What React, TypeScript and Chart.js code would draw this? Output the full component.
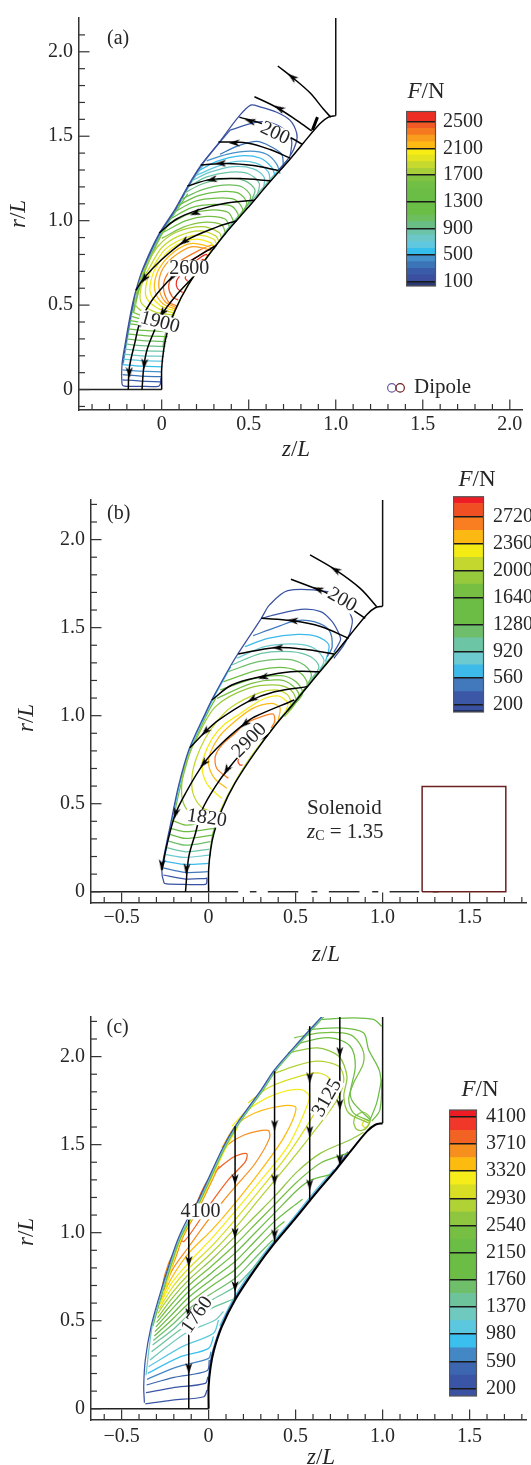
import React, { useEffect, useRef } from "react";
import { Chart, registerables } from "chart.js";
Chart.register(...registerables);

type Pt = [number, number];
type Contour = [number, Pt[]];

// ---------- shared nozzle wall (z/L, r/L) ----------
const wallCurve: Pt[] = [[0,0],[0,.125],[.012,.24],[.03,.33],[.076,.466],[.152,.618],[.265,.789],[.379,.94],[.492,1.073],[.622,1.23],[.737,1.364],[.814,1.46],[.91,1.575],[.958,1.613],[1.0,1.622]];
const wallStraight: Pt[] = [[1.0,1.622],[1.0,2.3]];

// ---------- panel (a) ----------
const xTicksA = [-.4,-.3,-.2,-.1,0,.1,.2,.3,.4,.5,.6,.7,.8,.9,1,1.1,1.2,1.3,1.4,1.5,1.6,1.7,1.8,1.9,2];
const rTicksA = [-.1,0,.1,.2,.3,.4,.5,.6,.7,.8,.9,1,1.1,1.2,1.3,1.4,1.5,1.6,1.7,1.8,1.9,2,2.1];
const edgesA = [33,100,200,300,400,500,600,700,800,900,1000,1100,1200,1300,1400,1500,1600,1700,1800,1900,2000,2100,2200,2300,2400,2500,2654];
const colorsA = ["#2b3a73","#3a4f9f","#3a5ba8","#3b75b8","#4390cb","#35bdec","#5fc8e0","#6cc8c8","#6cc4a8","#69be85","#6cbe5f","#6abd45","#6abd45","#6abd45","#6cbd45","#71bf44","#82c341","#a8cf38","#c5d92f","#e3e31f","#f7ec13","#fdba12","#f99d1c","#f5791f","#f15a25","#ee2e24"];
const barTicksA = [100,500,900,1300,1700,2100,2500];
const contoursA: Contour[] = [
 [100,[[-.004,.07],[-.008,.033],[-.019,.019],[-.125,.019],[-.216,.021],[-.228,.033],[-.228,.148],[-.211,.263],[-.178,.454],[-.148,.588],[-.106,.722],[-.02,.914],[.076,1.067],[.153,1.21],[.23,1.335],[.335,1.47],[.44,1.613],[.511,1.684],[.565,1.674],[.661,1.642],[.738,1.594],[.776,1.517],[.772,1.46],[.738,1.383],[.67,1.297]]],
 [200,[[-.225,.058],[-.12,.05],[-.008,.046]]],[300,[[-.225,.088],[-.12,.08],[-.004,.076]]],[400,[[-.225,.117],[-.12,.109],[0,.105]]],
 [500,[[-.224,.148],[-.12,.139],[.005,.135]]],[600,[[-.222,.18],[-.12,.172],[.012,.168]]],[700,[[-.218,.21],[-.12,.2],[.014,.197]]],
 [800,[[-.215,.24],[-.11,.23],[.018,.226]]],[900,[[-.21,.27],[-.11,.26],[.022,.255]]],[1000,[[-.205,.30],[-.11,.29],[.028,.284]]],
 [1100,[[-.2,.33],[-.1,.32],[.035,.313]]],[1200,[[-.195,.36],[-.1,.35],[.042,.342]]],[1300,[[-.19,.39],[-.09,.378],[.052,.37]]],
 [1400,[[-.185,.41],[-.085,.392],[.056,.385]]],[1500,[[-.18,.435],[-.08,.41],[.062,.40]]],[1600,[[-.17,.46],[-.09,.43],[.066,.415]]],
 [200,[[.393,1.536],[.546,1.584],[.642,1.575],[.718,1.527],[.747,1.469],[.738,1.383]]],
 [300,[[.335,1.393],[.431,1.44],[.546,1.469],[.623,1.441],[.69,1.393],[.699,1.316]]],
 [400,[[.259,1.354],[.374,1.393],[.508,1.412],[.603,1.393],[.661,1.335],[.68,1.278]]],
 [500,[[.216,1.297],[.316,1.351],[.45,1.384],[.565,1.371],[.632,1.316],[.651,1.268]]],
 [600,[[.197,1.268],[.316,1.32],[.431,1.351],[.546,1.339],[.613,1.287],[.623,1.23]]],
 [700,[[.172,1.236],[.278,1.287],[.412,1.32],[.527,1.307],[.588,1.259],[.584,1.182]]],
 [800,[[.153,1.201],[.259,1.259],[.393,1.287],[.498,1.278],[.561,1.22],[.546,1.144]]],
 [900,[[.128,1.163],[.239,1.22],[.374,1.249],[.479,1.236],[.536,1.182],[.508,1.105]]],
 [1000,[[.109,1.125],[.23,1.182],[.354,1.211],[.46,1.201],[.511,1.144],[.479,1.067]]],
 [1100,[[.086,1.086],[.211,1.148],[.335,1.172],[.441,1.163],[.489,1.105],[.45,1.029]]],
 [1200,[[.067,1.048],[.192,1.115],[.316,1.134],[.421,1.125],[.466,1.067],[.45,1.03]]],
 [1300,[[.048,1.01],[.172,1.077],[.297,1.096],[.402,1.086],[.441,1.029],[.42,.99]]],
 [1400,[[.029,.971],[.153,1.038],[.278,1.063],[.383,1.048],[.416,.99]]],
 [1500,[[.013,.933],[.14,1.0],[.259,1.025],[.364,1.01],[.393,.956]]],
 [1600,[[0,.895],[.125,.962],[.239,.99],[.345,.975],[.368,.918]]],
 [1700,[[.072,.425],[-.06,.44],[-.15,.5],[-.135,.62],[-.09,.73],[-.02,.85],[.08,.93],[.23,.965],[.33,.93],[.345,.895]]],
 [1800,[[.075,.44],[-.04,.46],[-.12,.52],[-.11,.64],[-.06,.74],[0,.84],[.1,.91],[.22,.94],[.31,.91],[.33,.875]]],
 [1900,[[.078,.452],[-.02,.48],[-.09,.55],[-.08,.66],[-.035,.75],[.02,.83],[.115,.89],[.21,.915],[.3,.89],[.315,.86]]],
 [2000,[[.08,.465],[-.005,.495],[-.065,.57],[-.055,.67],[-.01,.76],[.05,.83],[.125,.875],[.2,.89],[.28,.87],[.3,.845]]],
 [2100,[[.083,.475],[.005,.51],[-.04,.59],[-.03,.68],[.015,.76],[.07,.815],[.135,.855],[.18,.865],[.26,.85],[.29,.835]]],
 [2200,[[.085,.485],[.02,.52],[-.015,.6],[-.005,.69],[.04,.76],[.1,.81],[.17,.845],[.25,.835],[.28,.825]]],
 [2300,[[.088,.495],[.038,.521],[.01,.607],[.033,.683],[.105,.76],[.22,.827],[.287,.856],[.30,.85]]],
 [2400,[[.095,.53],[.06,.55],[.04,.61],[.06,.67],[.12,.735],[.21,.79],[.27,.83],[.285,.825]]],
 [2500,[[.12,.575],[.09,.6],[.085,.64],[.11,.68],[.16,.73],[.22,.78],[.255,.80],[.265,.79]]],
 [2600,[[.15,.64],[.135,.66],[.15,.69],[.2,.74],[.235,.77],[.245,.765]]],
 [200,[[-.224,.15],[-.207,.263],[-.174,.454],[-.144,.588],[-.102,.722],[-.016,.914],[.08,1.067],[.157,1.21],[.234,1.335],[.339,1.47],[.393,1.536]]],
 [700,[[-.219,.16],[-.203,.263],[-.17,.454],[-.14,.588],[-.098,.722],[-.012,.914],[.084,1.067],[.161,1.21],[.24,1.33]]],
 [1300,[[-.165,.454],[-.135,.588],[-.093,.722],[-.007,.914],[.09,1.067],[.15,1.16]]],
 [1600,[[-.16,.46],[-.13,.588],[-.088,.722],[-.002,.914],[.05,.99]]],
 [1200,[[.006,.25],[.024,.34],[.064,.45]]],
 [2000,[[.064,.45],[.094,.51],[.14,.6],[.2,.7],[.29,.83]]],
 [800,[[.3,.83],[.37,.94],[.48,1.073],[.61,1.23],[.725,1.36]]],
];
const streamsA: Pt[][] = [
 [[.667,1.916],[.757,1.843],[.852,1.757],[.929,1.661],[.971,1.613]],
 [[.533,1.734],[.661,1.67],[.776,1.594],[.862,1.531]],
 [[.446,1.613],[.575,1.575],[.747,1.488],[.805,1.454]],
 [[.326,1.466],[.489,1.46],[.623,1.421],[.738,1.37]],
 [[.224,1.33],[.374,1.339],[.527,1.326],[.67,1.297]],
 [[.148,1.205],[.278,1.243],[.45,1.249],[.626,1.236]],
 [[-.015,.927],[.086,1.01],[.22,1.067],[.374,1.105],[.536,1.121]],
 [[-.148,.588],[-.105,.655],[-.01,.76],[.134,.879],[.316,.962],[.431,1.0]],
 [[-.192,0],[-.186,.128],[-.153,.282],[-.125,.397],[-.067,.511],[-.01,.588],[.067,.674],[.153,.751],[.316,.856]],
 [[-.113,0],[-.102,.14],[-.082,.243],[-.038,.358],[0,.444],[.077,.55],[.18,.665]],
];
const thickStubA: Pt[] = [[.866,1.536],[.895,1.613]];
const arrowsA: [number,number,number][] = [[.75,1.85,218],[.676,1.665,209],[.508,1.59,195],[.416,1.46,180],[.339,1.339,180],[.287,1.243,170],[.192,1.044,160],[.128,.875,145],[-.1,.655,125],[.063,.669,125],[-.115,.397,110],[-.186,.1,90],[.004,.454,125],[-.1,.151,95]];
const labelsA: [string,number,number,number][] = [["200",.651,1.517,25],["2600",.159,.718,0],["1900",-.01,.397,15]];
const dipolePositions: Pt[] = [[1.322,.01],[1.37,.01]];

// ---------- panel (b) ----------
const xTicksB = [-.6,-.5,-.4,-.3,-.2,-.1,0,.1,.2,.3,.4,.5,.6,.7,.8,.9,1,1.1,1.2,1.3,1.4,1.5,1.6,1.7,1.8];
const rTicksB = [0,.1,.2,.3,.4,.5,.6,.7,.8,.9,1,1.1,1.2,1.3,1.4,1.5,1.6,1.7,1.8,1.9,2,2.1,2.2];
const edgesB = [107,128,200,380,560,740,920,1100,1280,1640,1820,2000,2180,2360,2540,2720,2900,2991];
const colorsB = ["#1e2d60","#3a50a0","#3b57a6","#4278bc","#3db9ea","#6dcbd0","#6cc5a5","#6ebe6c","#6cbd45","#76bf43","#97c93c","#c3d72e","#f5eb14","#fdb913","#f97e21","#f04e23","#ee1c25"];
const barTicksB = [200,560,920,1280,1640,2000,2360,2720];
const contoursB: Contour[] = [
 [150,[[-.01,.08],[-.012,.047],[-.03,.04],[-.14,.042],[-.24,.045],[-.256,.05],[-.269,.123],[-.242,.275],[-.218,.388],[-.174,.597],[-.114,.805],[-.019,1.013],[.028,1.108],[.123,1.278],[.17,1.354],[.303,1.553],[.35,1.629],[.455,1.71],[.682,1.705],[.75,1.67],[.824,1.553],[.814,1.477],[.777,1.402],[.72,1.326]]],
 [200,[[-.261,.095],[-.133,.072],[-.01,.076]]],[380,[[-.265,.136],[-.133,.11],[-.005,.114]]],[560,[[-.256,.174],[-.133,.155],[0,.161]]],
 [740,[[-.25,.212],[-.133,.195],[.003,.208]]],[920,[[-.242,.25],[-.133,.227],[.006,.242]]],[1100,[[-.232,.288],[-.133,.265],[.011,.284]]],
 [1280,[[-.224,.326],[-.133,.303],[.023,.322]]],[1460,[[-.218,.36],[-.133,.341],[.034,.36]]],[1640,[[-.212,.407],[-.133,.379],[.038,.398]]],
 [200,[[.303,1.553],[.379,1.572],[.53,1.604],[.644,1.591],[.71,1.534],[.748,1.468],[.758,1.43],[.72,1.36]]],
 [380,[[.256,1.455],[.398,1.506],[.502,1.54],[.606,1.534],[.691,1.487],[.71,1.392],[.682,1.335]]],
 [560,[[.208,1.392],[.341,1.439],[.511,1.462],[.625,1.449],[.691,1.402],[.672,1.307]]],
 [740,[[.161,1.326],[.322,1.392],[.511,1.407],[.606,1.383],[.663,1.316],[.634,1.25]]],
 [920,[[.133,1.288],[.303,1.354],[.473,1.364],[.587,1.335],[.634,1.278],[.587,1.203]]],
 [1100,[[.114,1.25],[.284,1.307],[.455,1.32],[.549,1.288],[.591,1.231],[.549,1.146]]],
 [1280,[[.085,1.193],[.284,1.259],[.436,1.273],[.53,1.241],[.568,1.174],[.511,1.098]]],
 [1460,[[.066,1.146],[.265,1.212],[.417,1.227],[.502,1.193],[.54,1.127],[.473,1.042]]],
 [1640,[[.047,1.098],[.246,1.184],[.407,1.203],[.483,1.17],[.521,1.108],[.455,1.023]]],
 [1820,[[.05,.41],[-.04,.425],[-.114,.455],[-.152,.53],[-.15,.65],[-.12,.76],[-.07,.87],[.038,1.05],[.227,1.155],[.398,1.174],[.473,1.146],[.502,1.08],[.436,.994]]],
 [2000,[[.06,.44],[-.04,.48],[-.09,.56],[-.095,.66],[-.07,.76],[-.02,.87],[.05,.97],[.133,1.051],[.284,1.127],[.388,1.146],[.455,1.117],[.473,1.06],[.455,1.02]]],
 [2180,[[.076,.53],[0,.6],[-.035,.68],[-.03,.76],[.02,.87],[.09,.95],[.17,1.004],[.303,1.089],[.398,1.112],[.455,1.07],[.43,1.0]]],
 [2360,[[.104,.587],[.034,.644],[0,.72],[.01,.79],[.06,.88],[.13,.95],[.25,1.04],[.36,1.07],[.41,1.045],[.40,.975]]],
 [2540,[[.114,.644],[.047,.70],[.038,.767],[.076,.833],[.152,.9],[.208,.953],[.265,.98],[.369,1.01],[.38,.97],[.36,.93]]],
 [2720,[[.195,.72],[.18,.72],[.17,.748],[.227,.805],[.265,.852],[.322,.9],[.335,.88]]],
 [560,[[-.265,.123],[-.238,.275],[-.214,.388],[-.17,.597],[-.11,.805],[-.015,1.013],[.032,1.108],[.127,1.278]]],
 [1640,[[-.206,.40],[-.162,.597],[-.102,.805],[-.007,1.013],[.04,1.098]]],
 [1460,[[.006,.2],[.024,.33],[.068,.46]]],
 [2000,[[.068,.46],[.1,.53],[.15,.62],[.21,.72],[.29,.83],[.4,.97]]],
 [1100,[[.4,.97],[.485,1.073],[.615,1.23],[.73,1.364]]],
];
const streamsB: Pt[][] = [
 [[.583,1.913],[.729,1.828],[.871,1.723],[.966,1.619]],
 [[.473,1.775],[.625,1.718],[.682,1.695],[.9,1.553]],
 [[.303,1.553],[.473,1.54],[.644,1.506],[.805,1.439]],
 [[.17,1.35],[.379,1.386],[.549,1.377],[.72,1.35]],
 [[.019,1.089],[.133,1.174],[.303,1.222],[.473,1.25],[.638,1.25]],
 [[-.108,.818],[-.019,.909],[.057,.975],[.227,1.08],[.379,1.136],[.568,1.165]],
 [[.492,1.089],[.265,.994],[.208,.956],[.076,.843],[-.028,.729],[-.133,.559],[-.193,.436],[-.242,.256],[-.269,.123]],
 [[.341,.89],[.21,.805],[.114,.70],[.038,.597],[-.038,.464],[-.076,.331],[-.114,.199],[-.133,0]],
];
const arrowsB: [number,number,number][] = [[.729,1.828,210],[.629,1.718,200],[.483,1.54,185],[.398,1.386,180],[.313,1.218,165],[.25,1.093,150],[-.019,.909,135],[.208,.953,140],[-.028,.729,130],[-.189,.445,105],[-.269,.152,95],[.104,.691,120],[-.127,.129,95]];
const labelsB: [string,number,number,number][] = [["200",.767,1.657,30],["2900",.235,.86,-45],["1820",-.01,.417,8]];
const solenoidBox: Pt[] = [[1.227,0],[1.227,.597],[1.708,.597],[1.708,0],[1.227,0]];
const axisDashes: Pt[][] = [[[0,0],[.17,0]],[[.237,0],[.275,0]],[[.34,0],[.515,0]],[[.591,0],[.625,0]],[[.691,0],[.867,0]],[[.94,0],[.975,0]],[[1.04,0],[1.21,0]],[[1.288,0],[1.32,0]]];

// ---------- panel (c) ----------
const xTicksC = xTicksB;
const rTicksC = rTicksB;
const edgesC = [94,200,395,590,785,980,1175,1370,1565,1760,1955,2150,2345,2540,2735,2930,3125,3320,3515,3710,3905,4100,4197];
const colorsC = ["#3b52a3","#3a55a5","#3c66b0","#4387c4","#3abfee","#5bc8e0","#6fc9bf","#6cc39c","#6fbf6a","#6bbd45","#6bbd45","#6cbd45","#76bf43","#8fc63f","#b0d235","#d8de23","#f6ec1a","#fdbb10","#f78f1e","#f26223","#f1372a","#ed1c24"];
const barTicksC = [200,590,980,1370,1760,2150,2540,2930,3320,3710,4100];
const contoursC: Contour[] = [
 [200,[[-.369,.034],[-.373,.125],[-.364,.277],[-.331,.466],[-.284,.637],[-.218,.846],[-.17,.978],[-.114,1.092],[-.076,1.149],[.076,1.471],[.152,1.604],[.303,1.813],[.379,1.926],[.53,2.097],[.653,2.23]]],
 [1300,[[-.36,.19],[-.325,.466],[-.278,.637],[-.212,.846],[-.164,.978],[-.07,1.149],[.082,1.471],[.158,1.604],[.309,1.813],[.385,1.926],[.536,2.097],[.659,2.23]]],
 [2100,[[-.32,.47],[-.272,.637],[-.206,.846],[-.158,.978],[-.064,1.149],[.088,1.471],[.164,1.604],[.315,1.813],[.391,1.926],[.542,2.097],[.665,2.23]]],
 [3200,[[-.27,.6],[-.2,.846],[-.152,.978],[-.058,1.149],[.094,1.471],[.17,1.604]]],
 [3600,[[-.24,.74],[-.194,.846],[-.146,.978],[-.052,1.149],[.06,1.38]]],
 [200,[[-.364,.027],[-.208,.049],[-.028,.068],[-.009,.106]]],
 [300,[[-.36,.091],[-.208,.119],[-.019,.144],[-.004,.182]]],
 [450,[[-.356,.135],[-.199,.178],[-.009,.216],[.004,.277]]],
 [650,[[-.354,.167],[-.189,.235],[0,.286],[.014,.324]]],
 [850,[[-.35,.201],[-.17,.292],[0,.343],[.028,.41]]],
 [1100,[[-.345,.239],[-.152,.353],[.028,.429],[.057,.504]]],
 [1250,[[-.337,.277],[-.133,.429],[.038,.504],[.085,.552]]],
 [1400,[[-.328,.324],[-.114,.485],[.019,.571],[.142,.622]]],
 [1450,[[-.322,.362],[-.208,.447],[-.114,.533],[.019,.618],[.152,.694],[.246,.789],[.322,.874]]],
 [1650,[[-.318,.387],[-.208,.478],[-.114,.567],[.019,.656],[.152,.741],[.265,.855],[.369,.959]]],
 [1850,[[-.312,.413],[-.208,.508],[-.114,.599],[.019,.698],[.152,.789],[.265,.903],[.379,1.016],[.436,1.064]]],
 [2050,[[-.309,.438],[-.208,.538],[-.114,.633],[.019,.736],[.152,.836],[.265,.95],[.379,1.064],[.473,1.14],[.54,1.19]]],
 [2250,[[-.303,.465],[-.208,.569],[-.114,.666],[.019,.774],[.152,.884],[.265,.997],[.379,1.111],[.511,1.244],[.59,1.30],[.70,1.33]]],
 [2450,[[-.299,.491],[-.208,.599],[-.114,.7],[.019,.812],[.152,.931],[.265,1.045],[.379,1.159],[.511,1.291],[.644,1.396],[.795,1.45]]],
 [2640,[[-.294,.516],[-.208,.63],[-.114,.732],[.019,.849],[.152,.978],[.265,1.092],[.379,1.206],[.511,1.348],[.644,1.452],[.814,1.528],[.89,1.57]]],
 [2800,[[-.292,.542],[-.208,.66],[-.114,.764],[.019,.887],[.152,1.026],[.303,1.206],[.455,1.386],[.606,1.575],[.739,1.755],[.777,1.87],[.748,1.945],[.625,1.974],[.492,1.945],[.36,1.898]]],
 [3000,[[-.284,.567],[-.208,.69],[-.114,.798],[.019,.925],[.152,1.073],[.303,1.253],[.455,1.443],[.587,1.642],[.682,1.813],[.691,1.879],[.625,1.907],[.492,1.879],[.341,1.822],[.227,1.737]]],
 [3200,[[-.28,.593],[-.208,.72],[-.114,.83],[.019,.969],[.152,1.121],[.303,1.301],[.455,1.49],[.549,1.68],[.578,1.775],[.53,1.813],[.379,1.784],[.227,1.699],[.133,1.604]]],
 [3420,[[-.275,.618],[-.208,.751],[-.114,.884],[.019,1.016],[.152,1.168],[.303,1.358],[.436,1.547],[.502,1.708],[.436,1.722],[.265,1.68],[.152,1.604],[.076,1.481]]],
 [3600,[[-.256,.675],[-.208,.79],[-.114,.92],[-.019,1.05],[.076,1.17],[.152,1.26],[.265,1.39],[.35,1.537],[.341,1.581],[.208,1.556],[.095,1.481],[-.01,1.25],[-.09,1.09],[-.16,.959],[-.23,.827],[-.269,.684],[-.256,.675]]],
 [3800,[[-.161,.959],[-.114,1.054],[-.009,1.291],[.133,1.424],[.218,1.449],[.212,1.405],[.114,1.301],[0,1.149],[-.076,1.035],[-.142,.95],[-.161,.959]]],
 [2640,[[.455,2.021],[.625,2.05],[.748,2.002],[.795,1.888],[.777,1.775],[.805,1.68],[.92,1.623]]],
 [2250,[[.5,2.05],[.53,2.078],[.702,2.107],[.814,2.059],[.843,1.945],[.814,1.794],[.833,1.737],[.928,1.642]]],
 [2400,[[.492,2.107],[.644,2.135],[.814,2.125],[.881,2.05],[.89,1.964],[.833,1.85],[.805,1.756],[.833,1.679],[.928,1.633]]],
 [2150,[[.568,2.154],[.758,2.163],[.89,2.135],[.919,2.04],[.985,1.907],[.985,1.699],[.938,1.633]]],
 [2000,[[.644,2.211],[.833,2.22],[.947,2.211],[.994,2.173]]],
 [2000,[[.994,1.87],[.966,1.737],[.928,1.642]]],
 [2640,[[.833,1.623],[.843,1.661],[.89,1.684],[.928,1.652],[.915,1.604],[.881,1.581],[.848,1.589],[.833,1.623]]],
 [3000,[[.881,1.614],[.9,1.642],[.924,1.627],[.9,1.595],[.881,1.614]]],
 [400,[[-.004,.1],[.006,.24],[.024,.33],[.07,.466],[.146,.618],[.259,.789],[.373,.94],[.486,1.073],[.616,1.23],[.731,1.364],[.8,1.46]]],
 [1000,[[.064,.47],[.14,.62],[.25,.79],[.365,.94],[.478,1.073],[.606,1.23],[.72,1.36]]],
];
const streamsC: Pt[][] = [
 [[-.114,0],[-.114,1.073]],
 [[.152,.618],[.152,1.604]],
 [[.379,.94],[.379,1.917]],
 [[.581,1.177],[.581,2.173]],
 [[.754,1.396],[.754,2.3]],
];
const arrowsC: [number,number,number][] = [[-.114,.836,90],[-.114,.542,90],[-.114,.229,90],[.152,1.301,90],[.152,.997,90],[.152,.694,90],[.379,1.61,90],[.379,1.301,90],[.379,.988,90],[.581,1.879,90],[.581,1.576,90],[.581,1.272,90],[.754,2.025,90],[.754,1.727,90],[.754,1.414,90]];
const labelsC: [string,number,number,number][] = [["3125",.682,1.765,-60],["1760",-.066,.533,-55],["4100",-.047,1.121,0]];

// ---------- drawing helpers ----------
const SERIF = '"Liberation Serif", serif';
const INK = "#262626";
const FS = 20;
const FS_TITLE = 23;
const FS_NOTE = 21;

function bandColor(level: number, edges: number[], colors: string[]) {
  for (let i = colors.length - 1; i >= 0; i--) if (level >= edges[i]) return colors[i];
  return colors[0];
}
const toXY = (p: Pt[]) => p.map(([x, y]) => ({ x, y }));
const isNear = (a: number, list: number[]) => list.some((v) => Math.abs(v - a) < 1e-6);

function mixedText(ctx: CanvasRenderingContext2D, parts: [string, boolean, number?, number?][], cx: number, cy: number, rot = 0, align: "center" | "left" = "center") {
  ctx.save();
  ctx.translate(cx, cy);
  ctx.rotate(rot);
  ctx.textBaseline = "middle";
  ctx.textAlign = "left";
  ctx.fillStyle = INK;
  let w = 0;
  for (const [t, it, s] of parts) {
    ctx.font = `${it ? "italic " : ""}${s ?? FS}px ${SERIF}`;
    w += ctx.measureText(t).width;
  }
  let x = align === "center" ? -w / 2 : 0;
  for (const [t, it, s, dy] of parts) {
    ctx.font = `${it ? "italic " : ""}${s ?? FS}px ${SERIF}`;
    ctx.fillText(t, x, dy ?? 0);
    x += ctx.measureText(t).width;
  }
  ctx.restore();
}

function makeArrow() {
  const c = document.createElement("canvas");
  c.width = 11;
  c.height = 8;
  const g = c.getContext("2d")!;
  g.fillStyle = "#000";
  g.beginPath();
  g.moveTo(11, 4);
  g.lineTo(0, 0.4);
  g.lineTo(3, 4);
  g.lineTo(0, 7.6);
  g.closePath();
  g.fill();
  return c;
}

interface PanelCfg {
  box: { top: number; height: number; left: number; right: number; axisTop: number; axisBottom: number };
  xRange: Pt; rRange: Pt;
  xTicks: number[]; rTicks: number[]; xMajor: [number, string][]; rMajor: [number, string][];
  contours: Contour[]; edges: number[]; colors: string[];
  streams: Pt[][]; arrows: [number, number, number][]; labels: [string, number, number, number][];
  tag: [string, number, number];
  axisLine: Pt[]; wallWidth: number; xPad: number;
  titleZ: Pt; titleR: Pt;
  extra?: any[];
  texts?: (ctx: CanvasRenderingContext2D, chart: any) => void;
}

function buildPanel(canvas: HTMLCanvasElement, p: PanelCfg) {
  const arrow = makeArrow();
  const line = (data: Pt[], color: string, width: number, tension = 0) => ({
    data: toXY(data), showLine: true, borderColor: color, borderWidth: width, pointRadius: 0, tension, fill: false,
  });
  const datasets: any[] = [
    { data: p.arrows.map(([x, y]) => ({ x, y })), showLine: false, pointStyle: arrow, pointRadius: 4, pointRotation: p.arrows.map((a) => a[2]) },
    ...(p.extra ?? []).map((e: any) => (e.pts ? { ...line(e.pts, e.color, e.width), ...(e.opts ?? {}) } : e)),
    ...p.streams.map((s) => line(s, "#000", 1.5, 0.35)),
    line(wallCurve, "#000", p.wallWidth, 0.3),
    line(wallStraight, "#111", 1.5),
    line(p.axisLine, "#222", 1.4),
    ...p.contours.map(([lv, pts]) => line(pts, bandColor(lv, p.edges, p.colors), 1.25, 0.3)),
  ];
  const bottomSpace = p.box.top + p.box.height - p.box.axisBottom;
  const axis = (ticks: number[], major: [number, string][], range: Pt, vertical: boolean) => ({
    type: "linear" as const,
    min: range[0], max: range[1],
    grid: { display: false, drawTicks: false },
    border: { display: true, color: "#333", width: 1.5 },
    afterFit(s: any) { if (vertical) s.width = p.box.left; else s.height = bottomSpace; },
    afterBuildTicks(s: any) { s.ticks = ticks.map((value) => ({ value })); },
    ticks: {
      autoSkip: false, maxRotation: 0, minRotation: 0, padding: vertical ? 6 : p.xPad,
      color: INK, font: { family: SERIF, size: FS },
      callback: (v: number) => major.find((m) => Math.abs(m[0] - v) < 1e-6)?.[1] ?? "",
    },
  });
  const plugin = {
    id: "panelDecor",
    afterDatasetsDraw(chart: any) {
      const { ctx, scales: { x, y }, chartArea: a } = chart;
      ctx.save();
      ctx.strokeStyle = "#333";
      ctx.lineWidth = 1.2;
      const xm = p.xMajor.map((m) => m[0]);
      const rm = p.rMajor.map((m) => m[0]);
      for (const v of p.xTicks) {
        const px = x.getPixelForValue(v);
        ctx.beginPath(); ctx.moveTo(px, a.bottom); ctx.lineTo(px, a.bottom - (isNear(v, xm) ? 10.5 : 6)); ctx.stroke();
      }
      for (const v of p.rTicks) {
        const py = y.getPixelForValue(v);
        ctx.beginPath(); ctx.moveTo(a.left, py); ctx.lineTo(a.left + (isNear(v, rm) ? 10.5 : 6), py); ctx.stroke();
      }
      ctx.restore();
      ctx.save();
      ctx.font = `${FS}px ${SERIF}`;
      for (const [t, z, r, ang] of p.labels) {
        const px = x.getPixelForValue(z), py = y.getPixelForValue(r);
        const w = ctx.measureText(t).width;
        ctx.save();
        ctx.translate(px, py); ctx.rotate((ang * Math.PI) / 180);
        ctx.fillStyle = "#fff";
        ctx.fillRect(-w / 2 - 1, -8, w + 2, 16);
        ctx.restore();
        mixedText(ctx, [[t, false]], px, py, (ang * Math.PI) / 180);
      }
      mixedText(ctx, [[p.tag[0], false]], x.getPixelForValue(p.tag[1]), y.getPixelForValue(p.tag[2]));
      mixedText(ctx, [["z", true, FS_TITLE], ["/", false, FS_TITLE], ["L", true, FS_TITLE]], p.titleZ[0], p.titleZ[1]);
      mixedText(ctx, [["r", true, FS_TITLE], ["/", false, FS_TITLE], ["L", true, FS_TITLE]], p.titleR[0], p.titleR[1], -Math.PI / 2);
      p.texts?.(ctx, chart);
      ctx.restore();
    },
  };
  return new Chart(canvas, {
    type: "scatter",
    data: { datasets },
    options: {
      animation: false, responsive: false, devicePixelRatio: 1,
      layout: { padding: { left: 0, right: 531 - p.box.right, top: p.box.axisTop - p.box.top, bottom: 0 } },
      plugins: { legend: { display: false }, title: { display: false }, tooltip: { enabled: false } },
      scales: { x: axis(p.xTicks, p.xMajor, p.xRange, false), y: axis(p.rTicks, p.rMajor, p.rRange, true) },
    } as any,
    plugins: [plugin],
  });
}

function buildBar(canvas: HTMLCanvasElement, b: { left: number; width: number; top: number; bottom: number; canvasTop: number; edges: number[]; colors: string[]; ticks: number[]; labelGap: number; titleX: number; titleY: number }) {
  const cw = 531 - b.left;
  const ch = b.bottom - b.canvasTop + 10;
  canvas.width = cw;
  canvas.height = ch;
  const plugin = {
    id: "barDecor",
    afterDraw(chart: any) {
      const { ctx, chartArea: a } = chart;
      ctx.save();
      ctx.strokeStyle = "#555";
      ctx.lineWidth = 1.2;
      ctx.strokeRect(a.left + 0.5, a.top, a.right - a.left - 1, a.bottom - a.top);
      mixedText(ctx, [["F", true, FS_TITLE], ["/N", false, FS_TITLE]], b.titleX - b.left, b.titleY - b.canvasTop);
      ctx.restore();
    },
  };
  return new Chart(canvas, {
    type: "bar",
    data: {
      labels: [""],
      datasets: b.colors.map((c, i) => ({ data: [[b.edges[i], b.edges[i + 1]]], backgroundColor: c, borderWidth: 0, barPercentage: 1, categoryPercentage: 1, grouped: false })),
    },
    options: {
      animation: false, responsive: false, devicePixelRatio: 1,
      layout: { padding: { left: 0, right: 0, top: b.top - b.canvasTop, bottom: ch - (b.bottom - b.canvasTop) } },
      plugins: { legend: { display: false }, title: { display: false }, tooltip: { enabled: false } },
      scales: {
        x: { display: false },
        y: {
          position: "right",
          min: b.edges[0], max: b.edges[b.edges.length - 1],
          afterFit(s: any) { s.width = cw - b.width; },
          afterBuildTicks(s: any) { s.ticks = b.ticks.map((value) => ({ value })); },
          grid: { display: true, color: "#1a1a1a", lineWidth: 1.5, drawTicks: false, z: 1 },
          border: { display: false },
          ticks: { autoSkip: false, padding: b.labelGap, color: INK, font: { family: SERIF, size: FS }, callback: (v: number) => String(v) },
        },
      },
    } as any,
    plugins: [plugin],
  });
}

const rMajorAll: [number, string][] = [[0,"0"],[.5,"0.5"],[1,"1.0"],[1.5,"1.5"],[2,"2.0"]];
const xMajorA: [number, string][] = [[0,"0"],[.5,"0.5"],[1,"1.0"],[1.5,"1.5"],[2,"2.0"]];
const xMajorBC: [number, string][] = [[-.5,"\u22120.5"],[0,"0"],[.5,"0.5"],[1,"1.0"],[1.5,"1.5"]];

const canvasStyle = (left: number, top: number): React.CSSProperties => ({ position: "absolute", left, top, display: "block" });

export default function App() {
  const a = useRef<HTMLCanvasElement>(null), b = useRef<HTMLCanvasElement>(null), c = useRef<HTMLCanvasElement>(null);
  const ba = useRef<HTMLCanvasElement>(null), bb = useRef<HTMLCanvasElement>(null), bc = useRef<HTMLCanvasElement>(null);
  useEffect(() => {
    document.body.style.margin = "0";
    document.body.style.background = "#fff";
    const charts = [
      buildPanel(a.current!, {
        box: { top: 0, height: 470, left: 79, right: 522, axisTop: 6, axisBottom: 410 },
        xRange: [-.475, 2.07], rRange: [-.121, 2.2], xTicks: xTicksA, rTicks: rTicksA, xMajor: xMajorA, rMajor: rMajorAll,
        contours: contoursA, edges: edgesA, colors: colorsA, streams: streamsA, arrows: arrowsA, labels: labelsA,
        tag: ["(a)", -.25, 2.08], axisLine: [[-.475, 0], [0, 0]], wallWidth: 1.5, xPad: 3,
        titleZ: [296, 450], titleR: [19, 214],
        extra: [
          { pts: thickStubA, color: "#000", width: 3 },
          { data: toXY(dipolePositions), showLine: false, pointStyle: "circle", pointRadius: 4.2, pointBorderWidth: 1.2, pointBackgroundColor: "rgba(0,0,0,0)", pointBorderColor: ["#6a5aa8", "#6b2020"] },
        ],
        texts: (ctx) => mixedText(ctx, [["Dipole", false, FS_NOTE]], 414, 387, 0, "left"),
      }),
      buildPanel(b.current!, {
        box: { top: 470, height: 510, left: 91, right: 531, axisTop: 500, axisBottom: 903 },
        xRange: [-.676, 1.824], rRange: [-.064, 2.225], xTicks: xTicksB, rTicks: rTicksB, xMajor: xMajorBC, rMajor: rMajorAll,
        contours: contoursB, edges: edgesB, colors: colorsB, streams: streamsB, arrows: arrowsB, labels: labelsB,
        tag: ["(b)", -.517, 2.146], axisLine: [[-.676, 0], [0, 0]], wallWidth: 1.5, xPad: 3,
        titleZ: [326, 485], titleR: [27, 248],
        extra: [
          { pts: solenoidBox, color: "#6b2020", width: 1.5 },
          ...axisDashes.map((d) => ({ pts: d, color: "#222", width: 1.4 })),
        ],
        texts: (ctx) => {
          mixedText(ctx, [["Solenoid", false, FS_NOTE]], 307, 338, 0, "left");
          mixedText(ctx, [["z", true, FS_NOTE], ["C", false, 14, 4], [" = 1.35", false, FS_NOTE]], 307, 362, 0, "left");
        },
      }),
      buildPanel(c.current!, {
        box: { top: 980, height: 485, left: 91, right: 531, axisTop: 1017, axisBottom: 1420 },
        xRange: [-.676, 1.824], rRange: [-.064, 2.225], xTicks: xTicksC, rTicks: rTicksC, xMajor: xMajorBC, rMajor: rMajorAll,
        contours: contoursC, edges: edgesC, colors: colorsC, streams: streamsC, arrows: arrowsC, labels: labelsC,
        tag: ["(c)", -.523, 2.165], axisLine: [[-.676, 0], [0, 0]], wallWidth: 2, xPad: 5,
        titleZ: [321, 478], titleR: [27, 252],
      }),
      buildBar(ba.current!, { left: 406, width: 30, top: 111.5, bottom: 295.7, canvasTop: 75, edges: edgesA, colors: colorsA, ticks: barTicksA, labelGap: 7, titleX: 426, titleY: 92 }),
      buildBar(bb.current!, { left: 453, width: 31, top: 496.7, bottom: 723.3, canvasTop: 465, edges: edgesB, colors: colorsB, ticks: barTicksB, labelGap: 9, titleX: 477, titleY: 480 }),
      buildBar(bc.current!, { left: 449, width: 28, top: 1110, bottom: 1407.3, canvasTop: 1075, edges: edgesC, colors: colorsC, ticks: barTicksC, labelGap: 9, titleX: 480, titleY: 1090 }),
    ];
    return () => charts.forEach((ch) => ch.destroy());
  }, []);
  return (
    <div style={{ position: "absolute", left: 0, top: 0, width: 531, height: 1465, overflow: "hidden", background: "#fff" }}>
      <canvas ref={a} width={531} height={470} style={canvasStyle(0, 0)} />
      <canvas ref={b} width={531} height={510} style={canvasStyle(0, 470)} />
      <canvas ref={c} width={531} height={485} style={canvasStyle(0, 980)} />
      <canvas ref={ba} style={canvasStyle(406, 75)} />
      <canvas ref={bb} style={canvasStyle(453, 465)} />
      <canvas ref={bc} style={canvasStyle(449, 1075)} />
    </div>
  );
}
